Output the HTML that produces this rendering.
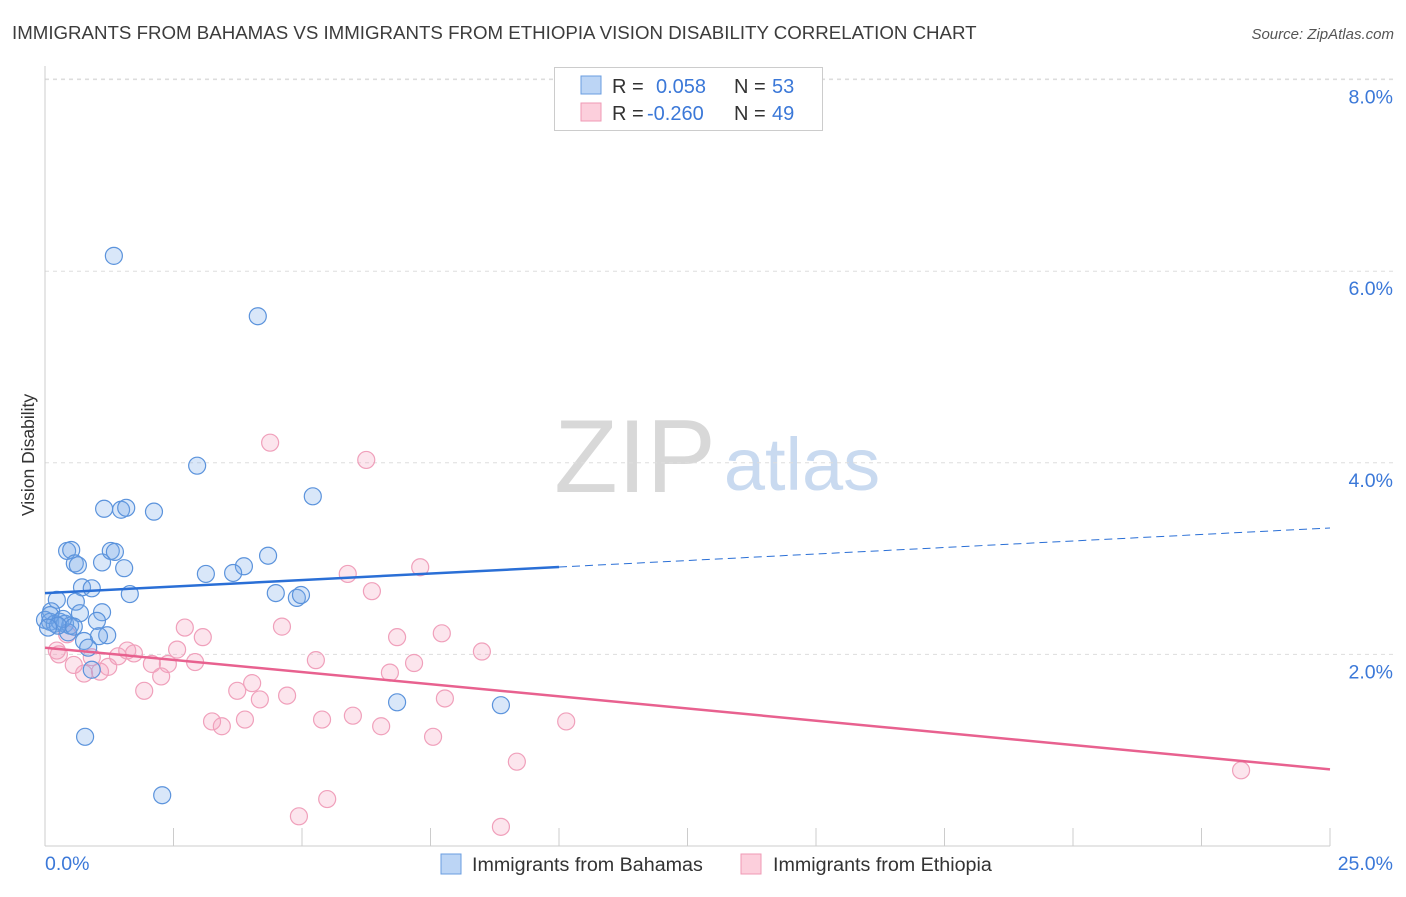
<!DOCTYPE html>
<html><head><meta charset="utf-8"><style>
body{margin:0;background:#fff;font-family:"Liberation Sans",sans-serif}
svg text{font-family:"Liberation Sans",sans-serif}
</style></head><body>
<svg id="chart" width="1406" height="892" xmlns="http://www.w3.org/2000/svg">
<text x="12" y="39" font-size="18.7" fill="#3c3c3c">IMMIGRANTS FROM BAHAMAS VS IMMIGRANTS FROM ETHIOPIA VISION DISABILITY CORRELATION CHART</text>
<text x="1394" y="39" font-size="15" fill="#555" text-anchor="end" font-style="italic">Source: ZipAtlas.com</text>
<text x="635" y="492" font-size="104" fill="#d8d8d8" text-anchor="middle" font-family="Liberation Serif, serif">ZIP</text>
<text x="802" y="490" font-size="74" fill="#c9daf0" text-anchor="middle">atlas</text>
<text transform="translate(34,455) rotate(-90)" font-size="17.5" fill="#333" text-anchor="middle">Vision Disability</text>
<g id="grid"></g><g id="axes"></g><g id="marks"></g>
<g>
<rect x="554.5" y="67.5" width="268" height="63" fill="#fff" stroke="#ccc"/>
<rect x="581" y="76" width="20" height="18" fill="#bcd5f5" stroke="#6a9de0"/>
<rect x="581" y="103" width="20" height="18" fill="#fccfdc" stroke="#ef9ab5"/>
<text x="612" y="93" font-size="20" fill="#333">R =</text><text x="656" y="93" font-size="20" fill="#3b78d8">0.058</text>
<text x="734" y="93" font-size="20" fill="#333">N =</text><text x="772" y="93" font-size="20" fill="#3b78d8">53</text>
<text x="612" y="120" font-size="20" fill="#333">R =</text><text x="647" y="120" font-size="20" fill="#3b78d8">-0.260</text>
<text x="734" y="120" font-size="20" fill="#333">N =</text><text x="772" y="120" font-size="20" fill="#3b78d8">49</text>
</g>
<g>
<rect x="441" y="854" width="20" height="20" fill="#bcd5f5" stroke="#6a9de0"/>
<text x="472" y="871" font-size="19.7" fill="#333">Immigrants from Bahamas</text>
<rect x="741" y="854" width="20" height="20" fill="#fccfdc" stroke="#ef9ab5"/>
<text x="773" y="871" font-size="19.7" fill="#333">Immigrants from Ethiopia</text>
</g>
</svg>
<script>
const yTicks=[2,4,6,8];
const yTickLabels=["2.0%","4.0%","6.0%","8.0%"];
const xTickLabels=["0.0%","25.0%"];
const bahamasX=[1.34,4.14,2.96,5.21,1.15,1.48,1.58,2.12,0.43,0.51,1.11,0.58,0.64,1.28,1.36,1.54,4.34,3.87,3.66,3.13,0.72,0.91,1.65,4.49,4.90,4.98,0.23,0.60,0.12,0.68,1.11,0,0.10,0.19,0.29,0.39,0.49,1.01,1.21,1.05,0.45,0.76,0.84,0.91,6.85,8.87,0.78,2.28,0.10,0.35,0.25,0.06,0.56];
const bahamasY=[6.16,5.53,3.97,3.65,3.52,3.51,3.53,3.49,3.08,3.09,2.96,2.95,2.93,3.08,3.07,2.90,3.03,2.92,2.85,2.84,2.70,2.69,2.63,2.64,2.59,2.62,2.57,2.55,2.45,2.43,2.44,2.36,2.34,2.32,2.34,2.32,2.30,2.35,2.20,2.19,2.23,2.14,2.07,1.84,1.50,1.47,1.14,0.53,2.41,2.37,2.30,2.28,2.29];
const ethiopiaX=[4.38,6.25,7.30,5.89,6.36,2.72,3.07,4.61,6.85,7.72,8.50,5.27,7.18,6.71,0.27,0.23,0.56,0.91,0.76,1.07,1.23,1.42,1.60,1.73,2.08,2.39,2.57,2.92,2.26,1.93,3.74,4.03,4.18,4.71,7.78,3.25,3.44,3.89,5.39,5.99,6.54,7.55,10.14,9.18,23.27,4.94,5.49,8.87,0.43];
const ethiopiaY=[4.21,4.03,2.91,2.84,2.66,2.28,2.18,2.29,2.18,2.22,2.03,1.94,1.91,1.81,2.00,2.04,1.89,1.97,1.80,1.82,1.87,1.98,2.04,2.01,1.90,1.90,2.05,1.92,1.77,1.62,1.62,1.70,1.53,1.57,1.54,1.30,1.25,1.32,1.32,1.36,1.25,1.14,1.30,0.88,0.79,0.31,0.49,0.20,2.21];
const bahamasTrend=[2.64,0.0272];
const ethiopiaTrend=[2.07,-0.0508];
const NS="http://www.w3.org/2000/svg";
const X=v=>45+v*51.4, Y=v=>846-v*95.8;
function mk(tag,attrs,parent){const e=document.createElementNS(NS,tag);for(const k in attrs)e.setAttribute(k,attrs[k]);document.getElementById(parent).appendChild(e);return e;}
mk('line',{x1:45,y1:79,x2:1393,y2:79,stroke:'#ddd','stroke-dasharray':'4,4'},'grid');
yTicks.forEach((t,i)=>{
 const g=mk('line',{x1:45,y1:Y(t),x2:1393,y2:Y(t),stroke:'#ddd','stroke-dasharray':'4,4'},'grid');
 
 
 const l=mk('text',{x:1393,y:Y(t)+24,'font-size':19.5,fill:'#3b78d8','text-anchor':'end'},'axes');
 l.textContent=yTickLabels[i];
 
 
});
mk('line',{x1:45,y1:66,x2:45,y2:846,stroke:'#ccc'},'axes');
mk('line',{x1:45,y1:846,x2:1330,y2:846,stroke:'#ccc'},'axes');
for(let i=0;i<=10;i++){const t=mk('line',{x1:X(i*2.5),y1:828,x2:X(i*2.5),y2:846,stroke:'#ccc'},'axes');
 
 }
const xl0=mk('text',{x:45,y:870,'font-size':19.5,fill:'#3b78d8'},'axes');xl0.textContent=xTickLabels[0];


const xl1=mk('text',{x:1393,y:870,'font-size':19.5,fill:'#3b78d8','text-anchor':'end'},'axes');xl1.textContent=xTickLabels[1];


ethiopiaX.forEach((x,i)=>{const c=mk('circle',{cx:X(x),cy:Y(ethiopiaY[i]),r:8.5,fill:'rgba(246,160,190,0.28)',stroke:'#f0a0bb','stroke-width':1.2},'marks');
 
 });
bahamasX.forEach((x,i)=>{const c=mk('circle',{cx:X(x),cy:Y(bahamasY[i]),r:8.5,fill:'rgba(120,170,235,0.28)',stroke:'#5b93dc','stroke-width':1.2},'marks');
 
 });
const b1=mk('line',{x1:X(0),y1:Y(bahamasTrend[0]),x2:X(10),y2:Y(bahamasTrend[0]+10*bahamasTrend[1]),stroke:'#2a6fd6','stroke-width':2.5},'marks');


const b2=mk('line',{x1:X(10),y1:Y(bahamasTrend[0]+10*bahamasTrend[1]),x2:X(25),y2:Y(bahamasTrend[0]+25*bahamasTrend[1]),stroke:'#2a6fd6','stroke-width':1,'stroke-dasharray':'8,5'},'marks');


const e1=mk('line',{x1:X(0),y1:Y(ethiopiaTrend[0]),x2:X(25),y2:Y(ethiopiaTrend[0]+25*ethiopiaTrend[1]),stroke:'#e8618f','stroke-width':2.5},'marks');


</script>
</body></html>
